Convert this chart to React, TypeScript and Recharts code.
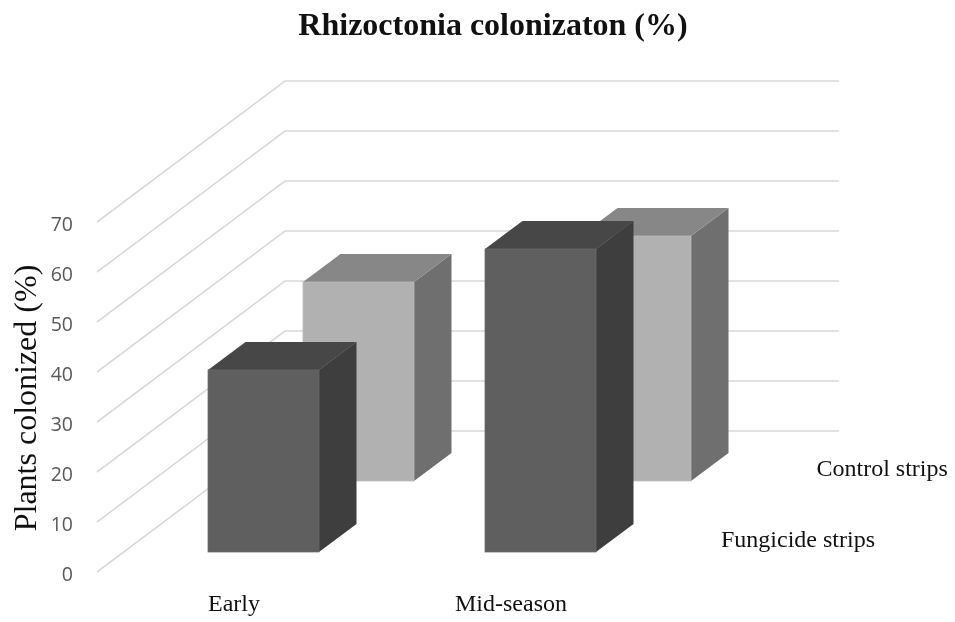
import React from "react";
import { ComposedChart, Bar, XAxis, YAxis, ReferenceLine, Customized } from "recharts";

const categories = ["Early", "Mid-season"];
const fungicideValues = [36.4, 60.6];
const controlValues = [39.8, 49];
const yTicks = [0, 10, 20, 30, 40, 50, 60, 70];
const titleText = "Rhizoctonia colonizaton (%)";
const yAxisTitle = "Plants colonized (%)";
const seriesLabels = ["Control strips", "Fungicide strips"];

const data = categories.map((c, i) => ({
  category: c,
  fungicide: fungicideValues[i],
  control: controlValues[i],
}));

const SERIF = "'Liberation Serif', serif";
const WALL_X = 188 / 554;
const WALL_Y = 28.2;
const GRID = "#d9d9d9";

const DEPTH_X = 37.5;
const DEPTH_Y = 28;

type Palette = { front: string; top: string; side: string; edge: string };
const darkPalette: Palette = { front: "#5f5f5f", top: "#474747", side: "#3e3e3e", edge: "#6a6a6a" };
const lightPalette: Palette = { front: "#b1b1b1", top: "#878787", side: "#6f6f6f", edge: "#bcbcbc" };

const box = (palette: Palette, dx: number, dy: number) => (props: any) => {
  const x = props.x + dx;
  const y = props.y + dy;
  const w = props.width;
  const h = props.height;
  return (
    <g>
      <polygon
        points={`${x + w},${y} ${x + w + DEPTH_X},${y - DEPTH_Y} ${x + w + DEPTH_X},${y + h - DEPTH_Y} ${x + w},${y + h}`}
        fill={palette.side}
      />
      <polygon
        points={`${x},${y} ${x + DEPTH_X},${y - DEPTH_Y} ${x + w + DEPTH_X},${y - DEPTH_Y} ${x + w},${y}`}
        fill={palette.top}
      />
      <rect x={x} y={y} width={w} height={h} fill={palette.front} stroke={palette.edge} strokeWidth={0.75} />
    </g>
  );
};

const Labels = () => (
  <g fontFamily={SERIF} fill="#111">
    <text x={493} y={35} textAnchor="middle" fontSize={32} fontWeight="bold">
      {titleText}
    </text>
    <text x={816.5} y={476} fontSize={24}>
      {seriesLabels[0]}
    </text>
    <text x={721} y={547} fontSize={24}>
      {seriesLabels[1]}
    </text>
  </g>
);

export default function App() {
  return (
    <div style={{ position: "fixed", left: 0, top: 0, width: 955, height: 622 }}>
      <ComposedChart
        width={955}
        height={622}
        data={data}
        barSize={111}
        margin={{ top: 222, right: 304, bottom: 0, left: 37 }}
      >
        <XAxis
          xAxisId="front"
          dataKey="category"
          axisLine={false}
          tickLine={false}
          height={50}
          tick={{ fontFamily: SERIF, fontSize: 24, fill: "#111", dx: -1.5 }}
          tickMargin={-14}
        />
        <XAxis xAxisId="back" dataKey="category" hide />
        <XAxis xAxisId="grid" type="number" domain={[0, 1]} hide allowDataOverflow />
        <YAxis
          yAxisId="v"
          width={60}
          domain={[0, 70]}
          ticks={yTicks}
          interval={0}
          axisLine={false}
          tickLine={false}
          tickMargin={18}
          tick={{ fontFamily: "'Open Sans', sans-serif", fontSize: 19.5, fill: "#595959", dy: 2 }}
          label={{
            value: yAxisTitle,
            angle: -90,
            position: "insideLeft",
            offset: -12,
            dy: 1,
            style: { fontFamily: SERIF, fontSize: 32, fill: "#111", textAnchor: "middle" },
          }}
        />
        {yTicks.map((v) => (
          <ReferenceLine
            key={`side-${v}`}
            xAxisId="grid"
            yAxisId="v"
            ifOverflow="visible"
            stroke={GRID}
            strokeWidth={1.6}
            zIndex={-50}
            segment={[
              { x: 0, y: v },
              { x: WALL_X, y: v + WALL_Y },
            ]}
          />
        ))}
        {yTicks.map((v) => (
          <ReferenceLine
            key={`back-${v}`}
            xAxisId="grid"
            yAxisId="v"
            ifOverflow="visible"
            stroke={GRID}
            strokeWidth={1.6}
            zIndex={-50}
            segment={[
              { x: WALL_X, y: v + WALL_Y },
              { x: 1 + WALL_X, y: v + WALL_Y },
            ]}
          />
        ))}
        <Bar
          xAxisId="back"
          yAxisId="v"
          dataKey="control"
          isAnimationActive={false}
          shape={box(lightPalette, 123, -91)}
        />
        <Bar
          xAxisId="front"
          yAxisId="v"
          dataKey="fungicide"
          isAnimationActive={false}
          shape={box(darkPalette, 28, -20)}
        />
        <Customized component={Labels} />
      </ComposedChart>
    </div>
  );
}
